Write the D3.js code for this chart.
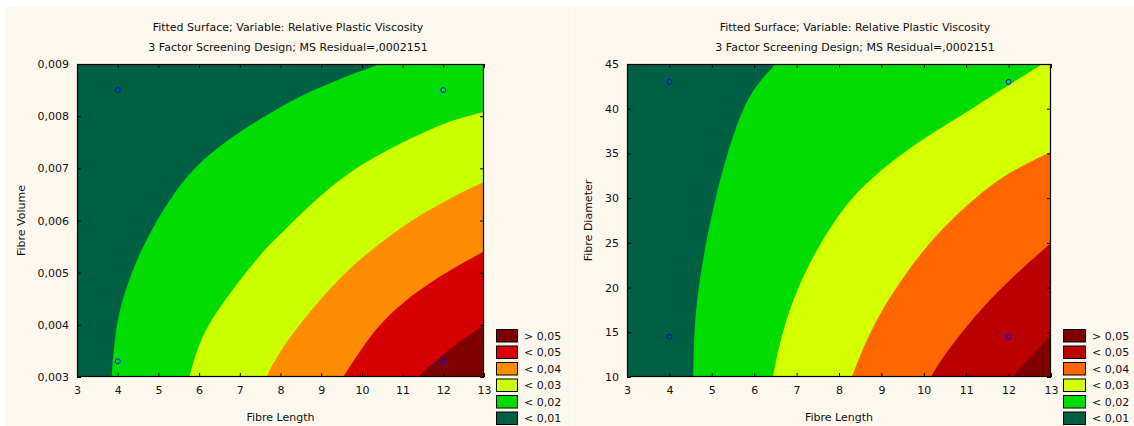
<!DOCTYPE html>
<html>
<head>
<meta charset="utf-8">
<style>
  body { margin: 0; background: #fff; }
  text { font-family: "DejaVu Sans", Verdana, sans-serif; fill: #111; }
</style>
<script src="https://d3js.org/d3.v7.min.js"></script>
</head>
<body>
<svg id="chart" width="1134" height="426"></svg>
<script>
// titles
var title1 = "Fitted Surface; Variable: Relative Plastic Viscosity";
var title2 = "3 Factor Screening Design;  MS Residual=,0002151";

// legend
var legendLabels = ["> 0,05", "< 0,05", "< 0,04", "< 0,03", "< 0,02", "< 0,01"];

// left panel: Fibre Length vs Fibre Volume
var xTicks = [3, 4, 5, 6, 7, 8, 9, 10, 11, 12, 13];
var volTicks = [0.003, 0.004, 0.005, 0.006, 0.007, 0.008, 0.009];
var volColors = ["#006044", "#00dc00", "#ccff00", "#ff8c00", "#d70000", "#7f0000"];
// contour boundaries (levels 0.01 .. 0.05)
var volContours = [
  [[3.85,0.003],[3.9,0.0035],[3.97,0.004],[4.12,0.0045],[4.34,0.005],[4.62,0.0055],[4.96,0.006],[5.36,0.0065],[5.86,0.007],[6.6,0.0075],[7.6,0.008],[8.5,0.0084],[9.4,0.0087],[10.45,0.009]],
  [[5.76,0.003],[5.94,0.00352],[6.22,0.004],[6.64,0.00448],[7.13,0.00499],[7.66,0.00549],[8.11,0.00582],[8.8,0.00636],[9.63,0.0069],[10.5,0.0073],[11.26,0.0076],[12.1,0.0079],[13,0.00808]],
  [[7.65,0.003],[7.99,0.00352],[8.8,0.00434],[9.63,0.00505],[10.44,0.00557],[11.26,0.00603],[12.09,0.0064],[13,0.00674]],
  [[9.54,0.003],[9.95,0.0035],[10.44,0.00403],[11.26,0.0046],[12.09,0.00502],[13,0.00541]],
  [[11.38,0.003],[12.09,0.00352],[13,0.004]]
];
var volPoints = [[4,0.0085],[12,0.0085],[4,0.0033],[12,0.0033]];

// right panel: Fibre Length vs Fibre Diameter
var diaTicks = [10, 15, 20, 25, 30, 35, 40, 45];
var diaColors = ["#006044", "#00dc00", "#d4ff00", "#ff6600", "#bb0000", "#800000"];
var diaContours = [
  [[4.56,10],[4.58,15],[4.68,20],[4.86,25],[5.08,30],[5.36,35],[5.72,40],[6.07,42.8],[6.51,45]],
  [[6.44,10],[6.65,15],[7.02,20],[7.55,25],[8.2,29.6],[8.8,32.4],[9.6,35.4],[10.38,37.8],[11.17,40.1],[11.95,42.5],[12.8,45]],
  [[8.3,10],[8.8,16.0],[9.6,21.9],[10.38,26.4],[11.17,29.9],[11.95,32.8],[13,35.2]],
  [[10.17,10],[10.38,11.8],[11.17,16.7],[11.95,20.6],[13,25.0]],
  [[12.07,10],[13,14.7]]
];
var diaPoints = [[4,43],[12,43],[4,14.5],[12,14.5]];

var svg = d3.select("#chart");

// backgrounds
svg.append("rect").attr("x", 5).attr("y", 7).attr("width", 566).attr("height", 419).attr("fill", "#fdf8ee");
svg.append("rect").attr("x", 572).attr("y", 7).attr("width", 562).attr("height", 419).attr("fill", "#fdf8ee");

function comma(fmt) {
  var f = d3.format(fmt);
  return function(d) { return f(d).replace(".", ","); };
}

function drawPanel(o) {
  var g = svg.append("g");
  var x = d3.scaleLinear().domain([3, 13]).range([o.left, o.right]);
  var y = d3.scaleLinear().domain([o.yTicks[0], o.yTicks[o.yTicks.length - 1]]).range([o.bottom, o.top]);
  var xmax = 13, ymin = y.domain()[0], ymax = y.domain()[1];

  // titles
  g.append("text").attr("x", o.cx).attr("y", 31).attr("text-anchor", "middle")
    .attr("font-size", 11).text(title1);
  g.append("text").attr("x", o.cx).attr("y", 51).attr("text-anchor", "middle")
    .attr("font-size", 11).text(title2);

  var clipId = "clip" + o.id;
  g.append("clipPath").attr("id", clipId).append("rect")
    .attr("x", o.left).attr("y", o.top).attr("width", o.right - o.left).attr("height", o.bottom - o.top);

  var plot = g.append("g").attr("clip-path", "url(#" + clipId + ")");
  plot.append("rect").attr("x", o.left).attr("y", o.top)
    .attr("width", o.right - o.left).attr("height", o.bottom - o.top).attr("fill", o.colors[0]);

  var line = d3.line().x(function(d) { return x(d[0]); }).y(function(d) { return y(d[1]); })
    .curve(d3.curveBasis);

  o.contours.forEach(function(c, i) {
    var last = c[c.length - 1];
    var tail = [];
    if (last[1] >= ymax && last[0] < xmax) tail.push([xmax, ymax]);
    tail.push([xmax, ymin]);
    var d = line(c) + tail.map(function(p) { return "L" + x(p[0]) + "," + y(p[1]); }).join("") + "Z";
    plot.append("path").attr("d", d).attr("fill", o.colors[i + 1]);
  });

  // design points
  g.selectAll(".pt" + o.id).data(o.points).enter().append("circle")
    .attr("cx", function(d) { return x(d[0]); })
    .attr("cy", function(d) { return y(d[1]); })
    .attr("r", 2.5).attr("fill", "none").attr("stroke", "#0000ff").attr("stroke-width", 1);

  // axes with inward ticks
  var ax = function(a) {
    a.selectAll(".domain").remove();
    a.selectAll("line").attr("stroke", "#000");
    a.selectAll("text").attr("font-size", 11).attr("fill", "#111")
      .attr("font-family", "DejaVu Sans, Verdana, sans-serif");
  };
  g.append("g").attr("transform", "translate(0," + o.bottom + ")")
    .call(d3.axisBottom(x).tickValues(xTicks).tickSizeInner(-4).tickSizeOuter(0).tickPadding(9))
    .call(ax);
  g.append("g").attr("transform", "translate(0," + o.top + ")")
    .call(d3.axisTop(x).tickValues(xTicks).tickSizeInner(-4).tickSizeOuter(0).tickFormat(""))
    .call(ax);
  g.append("g").attr("transform", "translate(" + o.left + ",0)")
    .call(d3.axisLeft(y).tickValues(o.yTicks).tickSizeInner(-4).tickSizeOuter(0).tickPadding(8).tickFormat(o.yFormat))
    .call(ax);
  g.append("g").attr("transform", "translate(" + o.right + ",0)")
    .call(d3.axisRight(y).tickValues(o.yTicks).tickSizeInner(-4).tickSizeOuter(0).tickFormat(""))
    .call(ax);

  g.append("rect").attr("x", o.left + 0.5).attr("y", o.top + 0.5)
    .attr("width", o.right - o.left - 1).attr("height", o.bottom - o.top - 1)
    .attr("fill", "none").attr("stroke", "#000").attr("stroke-width", 1.2);

  // axis titles
  g.append("text").attr("x", (o.left + o.right) / 2).attr("y", 421).attr("text-anchor", "middle")
    .attr("font-size", 11).text("Fibre Length");
  g.append("text").attr("transform", "translate(" + o.ylx + "," + ((o.top + o.bottom) / 2) + ") rotate(-90)")
    .attr("text-anchor", "middle").attr("dy", "0.35em").attr("font-size", 11).text(o.yLabel);

  // legend
  var leg = g.append("g");
  var cols = o.colors.slice().reverse();
  legendLabels.forEach(function(t, i) {
    var ty = 329.5 + i * 16.5;
    leg.append("rect").attr("x", o.legX + 0.5).attr("y", ty).attr("width", o.legW).attr("height", 12.5)
      .attr("fill", cols[i]).attr("stroke", "#000").attr("stroke-width", 1);
    leg.append("text").attr("x", o.legX + o.legW + 7).attr("y", ty + 6.5).attr("dy", "0.35em")
      .attr("font-size", 11).text(t);
  });
}

drawPanel({ id: 1, left: 77, right: 484, top: 64, bottom: 377, cx: 288, ylx: 21,
  yTicks: volTicks, yFormat: comma(".3f"), yLabel: "Fibre Volume",
  colors: volColors, contours: volContours, points: volPoints, legX: 496, legW: 21 });

drawPanel({ id: 2, left: 627, right: 1051, top: 64, bottom: 377, cx: 855, ylx: 588,
  yTicks: diaTicks, yFormat: d3.format("d"), yLabel: "Fibre Diameter",
  colors: diaColors, contours: diaContours, points: diaPoints, legX: 1063, legW: 22 });
</script>
</body>
</html>
